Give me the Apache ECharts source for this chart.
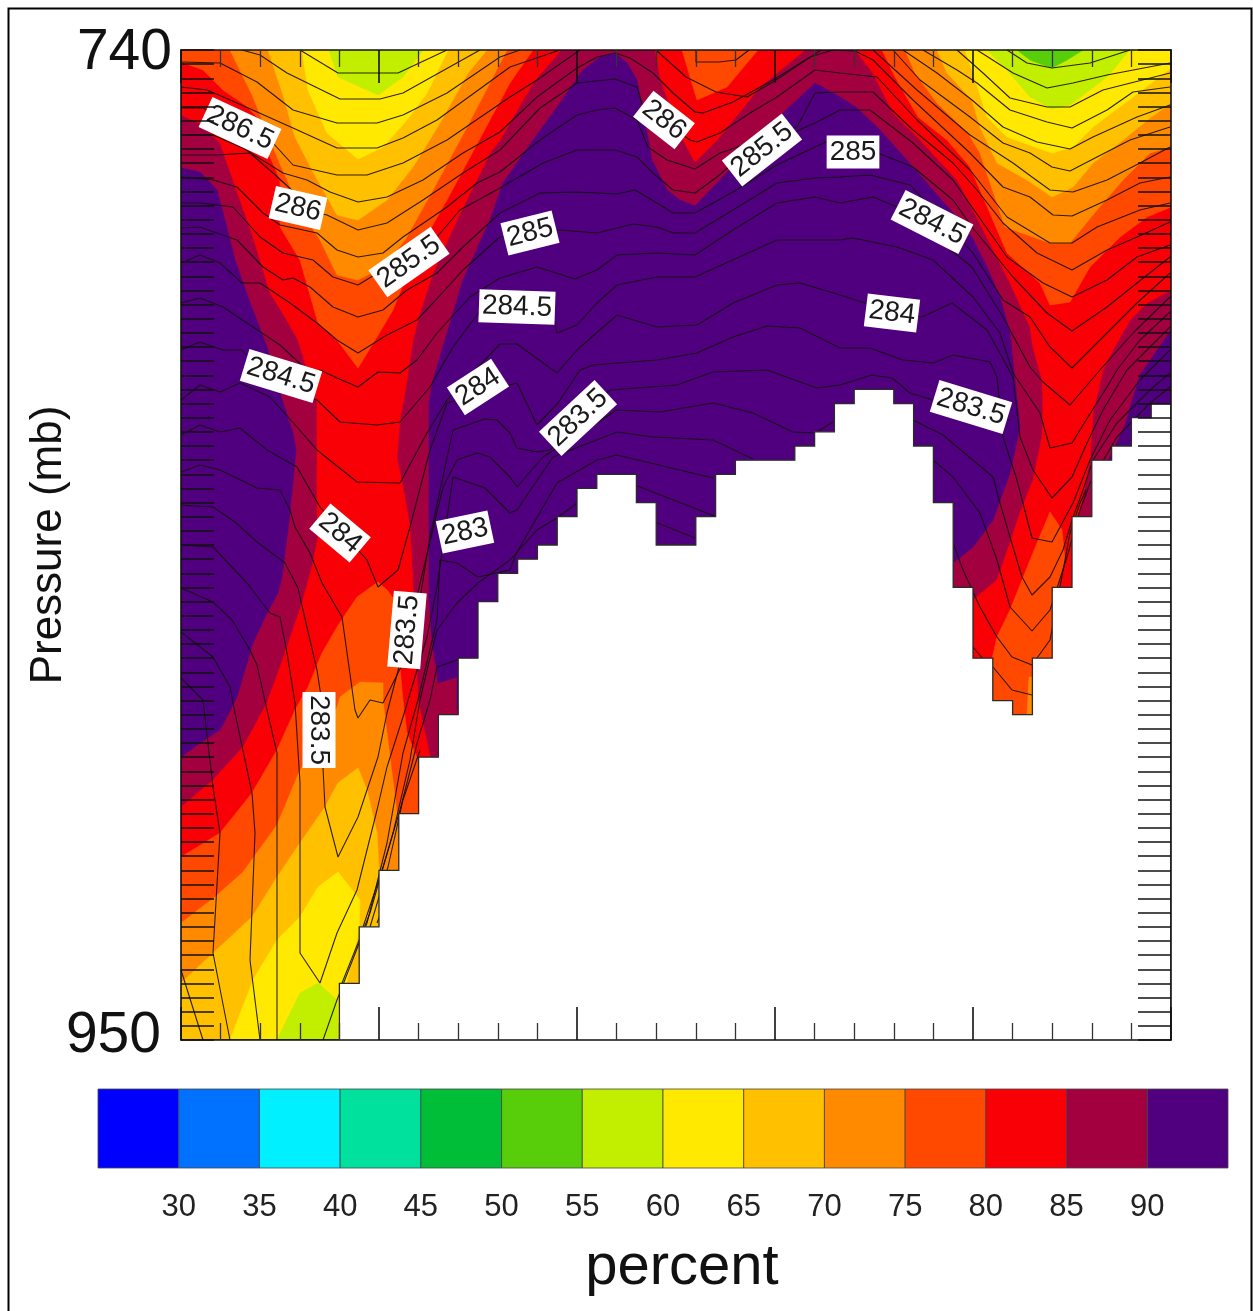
<!DOCTYPE html>
<html><head><meta charset="utf-8"><style>html,body{margin:0;background:#fff}#c{width:1253px;height:1311px;filter:blur(0.45px)}</style>
<script src="https://cdn.jsdelivr.net/npm/echarts@6/dist/echarts.min.js"></script></head><body><div id="c"></div>
<script>
// Contour vertices are [distance along section (0-990), level height (0-990, 740 mb at top, 950 mb at bottom)]
const PURPLE='#50007f',CRIMSON='#a3003f',RED='#f80006',ORED='#ff4800',ORANGE='#ff8a00',AMBER='#ffc000',YELLOW='#ffe900',YGREEN='#c2ee00',GREEN='#58ce0a';
const columnCount=50;
const surfacePressure=[950,950,950,950,950,950,950,950,938,926,914,902,890,881,869,857,851,848,845,839,833,830,830,836,845,845,839,830,827,827,827,824,821,815,812,812,815,824,836,854,869,878,881,869,854,839,827,824,818,815];
const pressureLabels=[740,950];
const rhLevels=[25,30,35,40,45,50,55,60,65,70,75,80,85,90,95];
const rhColors=['#0000ff','#0072ff','#00f0ff','#00e19d','#00be38','#58ce0a',YGREEN,YELLOW,AMBER,ORANGE,ORED,RED,CRIMSON,PURPLE];
const rhTickLabels=[30,35,40,45,50,55,60,65,70,75,80,85,90];

const baseBand=[[0,0],[990,0],[990,990],[0,990]];
const purpleLeft=[[0,118],[19,122],[36,140],[44,170],[54,210],[67,247],[86,297],[99,343],[112,383],[115,400],[109,463],[101,527],[97,543],[86,563],[72,593],[56,647],[39,680],[19,693],[0,707]];
const purpleCentre=[[276,627],[257,633],[256,623],[251,590],[248,550],[248,487],[248,353],[252,330],[267,280],[282,230],[309,170],[322,133],[352,90],[379,53],[402,20],[419,7],[434,3],[446,13],[456,30],[466,83],[471,110],[486,140],[499,150],[514,156],[536,133],[602,63],[634,33],[659,47],[676,58],[699,80],[732,117],[752,140],[772,163],[791,187],[806,217],[819,247],[829,283],[834,330],[839,377],[829,423],[812,470],[792,497],[772,513],[772,570],[276,660]];
const purpleRight=[[990,280],[959,325],[944,375],[929,407],[924,420],[990,420]];
const redLeft=[[0,65],[22,75],[39,93],[52,130],[72,187],[89,243],[104,267],[117,290],[124,313],[134,345],[136,353],[136,453],[137,487],[132,513],[121,553],[104,603],[86,653],[62,697],[32,730],[0,757],[0,990],[159,990],[249,707],[237,650],[234,570],[232,537],[229,477],[222,437],[216,408],[219,370],[226,330],[232,290],[239,263],[252,223],[276,170],[309,103],[319,90],[352,33],[380,0],[0,0]];
const redMid=[[474,0],[479,27],[489,57],[502,90],[514,112],[536,90],[579,37],[624,0]];
const redRight=[[674,0],[692,23],[712,63],[739,90],[776,130],[792,160],[829,233],[849,277],[852,297],[861,330],[862,353],[861,387],[852,430],[839,463],[829,493],[816,530],[792,550],[792,670],[894,670],[894,470],[899,460],[909,410],[912,363],[922,320],[932,300],[949,270],[966,253],[990,240],[990,0]];
const oredLeftUpper=[[0,0],[0,12],[22,20],[42,40],[64,55],[79,70],[89,107],[99,130],[99,177],[119,210],[137,273],[156,290],[177,318],[196,287],[212,260],[232,210],[266,150],[309,70],[329,33],[352,0]];
const oredMid=[[501,0],[509,27],[516,50],[546,37],[577,0]];
const oredRight=[[701,0],[714,27],[737,67],[766,90],[789,117],[802,147],[826,203],[859,233],[869,255],[889,252],[909,217],[939,187],[966,167],[990,157],[990,0]];
const oredLeftLower=[[197,532],[176,547],[156,577],[141,603],[127,637],[114,660],[96,700],[71,743],[39,783],[0,807],[0,990],[159,990],[237,860],[237,710],[226,683],[222,650],[219,617],[216,553],[206,540]];
const oredSpike=[[869,462],[856,493],[841,530],[829,560],[816,587],[811,609],[811,680],[871,680],[871,540],[877,537],[884,510],[881,480]];
const orangeUpperLeft=[[49,0],[72,47],[96,107],[117,155],[139,190],[156,225],[177,230],[202,217],[224,190],[252,140],[286,77],[326,0]];
const orangeUpperRight=[[724,0],[734,23],[756,53],[787,83],[799,103],[824,177],[869,193],[889,193],[916,160],[942,130],[969,103],[990,97],[990,0]];
const orangeLower=[[0,873],[34,847],[62,822],[96,775],[119,720],[139,690],[156,657],[159,647],[179,632],[202,633],[202,650],[206,683],[216,763],[218,790],[218,860],[159,990],[0,990]];
const orangeSliver=[[848,627],[852,627],[852,666],[846,666]];
const amberUpperLeft=[[87,0],[102,45],[114,87],[131,120],[156,165],[177,170],[206,150],[232,117],[259,73],[287,23],[306,0]];
const amberUpperRight=[[756,0],[766,23],[791,50],[799,77],[816,113],[846,130],[871,147],[892,137],[912,113],[942,90],[969,68],[990,53],[990,0]];
const amberLower=[[177,718],[157,733],[144,757],[119,793],[96,827],[71,867],[32,903],[0,933],[0,990],[159,990],[198,890],[198,821],[196,783],[186,740]];
const yellowUpperLeft=[[121,0],[127,40],[146,83],[177,109],[202,97],[226,70],[246,43],[267,0]];
const yellowUpperRight=[[784,0],[792,23],[806,67],[826,87],[871,103],[892,97],[912,77],[952,47],[990,18],[990,0]];
const yellowLower=[[157,822],[179,850],[178,880],[164,940],[159,990],[49,990],[72,930],[96,890],[119,867],[137,837]];
const ygreenUpperLeft=[[148,0],[157,27],[197,45],[222,27],[242,0]];
const ygreenUpperRight=[[806,0],[826,20],[849,47],[871,59],[889,55],[926,27],[949,0]];
const ygreenLower=[[137,933],[119,943],[96,990],[157,990],[156,950]];
const greenUpperRight=[[836,0],[849,10],[871,18],[886,10],[902,0]];

const bands=[[CRIMSON,baseBand],[PURPLE,purpleLeft],[PURPLE,purpleCentre],[PURPLE,purpleRight],[RED,redLeft],[RED,redMid],[RED,redRight],[ORED,oredLeftUpper],[ORED,oredMid],[ORED,oredRight],[ORED,oredLeftLower],[ORED,oredSpike],[ORANGE,orangeUpperLeft],[ORANGE,orangeUpperRight],[ORANGE,orangeLower],[ORANGE,orangeSliver],[AMBER,amberUpperLeft],[AMBER,amberUpperRight],[AMBER,amberLower],[YELLOW,yellowUpperLeft],[YELLOW,yellowUpperRight],[YELLOW,yellowLower],[YGREEN,ygreenUpperLeft],[YGREEN,ygreenUpperRight],[YGREEN,ygreenLower],[GREEN,greenUpperRight]];

const contours=[
[[119,0],[157,23],[217,23],[266,0]],
[[61,0],[79,5],[106,23],[159,49],[199,49],[222,43],[299,0]],
[[0,12],[39,13],[76,32],[112,60],[156,73],[196,73],[222,65],[266,43],[319,7],[339,0]],
[[0,37],[26,40],[56,53],[112,78],[156,98],[196,98],[222,88],[256,70],[329,17],[379,0]],
[[0,58],[22,58],[92,93],[112,115],[156,125],[186,125],[222,113],[266,90],[329,47],[356,30],[399,0]],
[[0,85],[32,85],[62,98],[86,113],[102,123],[126,130],[149,142],[177,152],[206,147],[242,130],[282,103],[319,82],[356,47],[396,18],[416,7],[434,3],[449,8],[472,23],[492,43],[514,62],[522,63],[552,52],[592,30],[629,7],[652,0],[674,1],[692,10],[732,50],[789,103],[822,137],[849,147],[872,165],[891,166],[926,150],[959,133],[989,127]],
[[0,105],[36,105],[69,103],[92,123],[136,163],[146,165],[177,180],[206,173],[242,150],[282,123],[319,100],[359,58],[396,33],[434,29],[456,37],[462,57],[509,90],[516,92],[539,83],[569,63],[596,47],[634,20],[659,23],[696,27],[736,70],[789,120],[826,167],[869,193],[891,193],[916,177],[959,160],[989,153]],
[[0,127],[32,130],[56,137],[82,163],[99,175],[136,183],[156,200],[177,207],[202,203],[222,187],[266,157],[296,133],[319,122],[359,90],[396,65],[416,60],[434,58],[456,70],[467,97],[486,110],[514,119],[539,103],[616,77],[634,43],[659,42],[692,42],[732,80],[772,113],[796,140],[822,173],[856,203],[891,220],[926,200],[956,187],[989,172]],
[[0,153],[19,153],[52,157],[79,187],[102,203],[132,210],[152,227],[177,235],[256,187],[279,160],[319,138],[362,113],[396,100],[434,100],[456,107],[472,123],[492,140],[514,143],[536,127],[559,107],[596,90],[634,73],[659,60],[689,60],[732,93],[772,130],[791,157],[826,207],[862,233],[891,247],[926,230],[956,207],[989,195]],
[[0,178],[19,177],[56,190],[82,217],[102,230],[112,228],[129,237],[152,257],[177,267],[202,260],[226,240],[256,223],[282,197],[319,163],[359,143],[396,142],[436,144],[454,140],[476,153],[492,163],[514,163],[552,142],[596,115],[634,97],[649,90],[702,105],[732,117],[772,150],[791,177],[832,227],[866,263],[891,281],[926,257],[956,233],[989,207]],
[[0,213],[19,205],[39,213],[61,233],[79,233],[109,253],[136,273],[156,290],[177,303],[206,285],[236,270],[252,253],[282,220],[319,187],[379,180],[416,183],[452,174],[476,177],[492,183],[514,183],[552,160],[596,133],[634,128],[659,127],[689,125],[729,135],[792,203],[822,250],[849,267],[869,297],[891,318],[926,283],[956,253],[989,223]],
[[0,253],[19,248],[42,257],[72,277],[99,295],[129,323],[139,320],[156,328],[177,337],[197,322],[219,323],[236,310],[256,283],[289,247],[319,228],[356,217],[394,229],[416,220],[436,205],[476,203],[514,205],[552,180],[596,153],[634,147],[659,153],[692,147],[716,157],[791,217],[822,267],[849,317],[862,332],[889,355],[919,320],[952,283],[989,247]],
[[0,300],[19,292],[42,300],[61,300],[99,343],[136,350],[159,372],[196,375],[219,372],[249,337],[272,297],[302,257],[374,273],[376,283],[396,275],[416,253],[436,235],[476,227],[514,227],[596,190],[659,190],[672,188],[716,197],[752,210],[792,247],[819,283],[832,323],[859,363],[869,398],[891,393],[907,367],[926,337],[936,320],[959,290],[989,262]],
[[0,350],[19,335],[39,342],[59,333],[89,347],[116,377],[136,400],[176,432],[219,433],[246,383],[266,350],[319,294],[336,294],[376,323],[396,300],[436,265],[476,277],[516,275],[552,253],[596,235],[619,233],[659,245],[684,253],[741,267],[771,253],[806,280],[832,327],[839,387],[852,420],[871,448],[891,427],[906,393],[922,360],[946,320],[989,277]],
[[0,385],[19,375],[39,382],[59,378],[86,400],[116,417],[139,457],[186,510],[197,537],[217,520],[229,477],[249,400],[266,353],[336,333],[356,375],[377,353],[399,320],[412,315],[476,310],[516,303],[552,287],[586,276],[619,278],[659,298],[689,298],[722,310],[752,313],[772,305],[809,312],[816,327],[822,387],[836,430],[851,488],[871,492],[892,453],[909,410],[929,370],[959,330],[989,300]],
[[0,422],[19,415],[39,420],[76,438],[99,440],[109,460],[114,477],[129,503],[141,533],[161,567],[174,660],[177,668],[189,650],[202,653],[222,613],[236,567],[249,487],[272,380],[304,369],[316,370],[329,383],[336,398],[356,402],[369,400],[429,340],[496,335],[532,322],[586,320],[636,338],[659,335],[691,325],[711,328],[729,343],[752,350],[829,370]],
[[0,455],[32,457],[54,472],[76,492],[104,513],[117,538],[122,560],[136,620],[141,653],[142,718],[144,757],[157,807],[177,767],[197,707],[206,663],[232,563],[262,437],[276,410],[296,403],[309,407],[329,427],[336,437],[362,407],[436,360],[479,362],[532,353],[572,363],[612,382],[634,383],[652,372]],
[[0,495],[32,497],[66,533],[89,563],[99,567],[106,603],[114,653],[119,733],[119,903],[139,933],[156,883],[176,840],[196,760],[206,717],[222,667],[246,587],[256,537],[272,427],[304,438],[329,463],[336,460],[372,407],[436,382],[472,387],[532,390],[572,409]],
[[0,538],[32,552],[51,570],[69,600],[76,615],[86,660],[96,703],[96,990]],
[[0,582],[32,607],[49,637],[54,663],[71,743],[74,783],[69,910],[79,990]],
[[0,628],[22,650],[32,737],[39,783],[32,903],[49,990]],
[[0,920],[22,990]],
[[142,990],[156,950],[186,873],[206,793],[222,703],[237,650],[256,570],[259,510],[276,513],[297,527],[329,520],[336,502],[376,433],[416,410],[436,405],[532,428]],
[[161,933],[189,863],[212,783],[229,710],[239,650],[246,620],[256,580],[276,553],[297,533],[329,510],[356,480],[376,468],[396,453]],
[[182,877],[202,817],[219,760],[237,690],[249,650],[256,617],[276,610]],
[[189,877],[207,817],[222,750],[239,700]],
[[196,873],[216,820]],
[[454,435],[536,467]],
[[474,472],[514,488]],
[[732,370],[762,385],[812,427],[819,453],[829,487],[841,527],[851,545],[869,527],[882,500],[892,467],[901,443],[912,410],[936,373],[969,340],[989,323]],
[[752,410],[772,427],[799,463],[816,510],[829,557],[851,581],[869,560],[886,507],[899,460],[909,433],[936,387],[969,353],[989,337]],
[[771,490],[782,520],[799,557],[816,587],[831,607],[851,615],[869,590],[879,537],[889,483],[899,453],[905,440]],
[[792,597],[802,609]],
[[812,617],[831,640],[851,645]],
[[826,0],[846,13],[871,18],[909,13],[949,0]],
[[796,0],[832,23],[866,38],[892,33],[926,25],[989,13]],
[[776,0],[802,23],[829,48],[866,57],[889,57],[922,40],[989,23]],
[[742,0],[776,20],[796,33],[829,60],[866,72],[891,78],[926,60],[952,42],[989,37]],
[[722,0],[756,23],[791,50],[822,77],[856,92],[889,99],[912,87],[956,67],[989,55]],
[[712,0],[739,30],[789,67],[822,93],[849,103],[871,117],[889,121],[916,107],[949,90],[989,77]],
[[692,0],[736,40],[789,85],[832,113],[851,127],[869,140],[892,142],[926,130],[959,113],[989,97]],
[[475,0],[505,27],[535,42],[566,47],[592,32],[640,0]],
[[515,0],[515,12],[538,12],[555,10],[568,0]]
];

const contourLabels=[
['286.5',59,78,-25],['286',117,158,-13],['285.5',228,212,35],['285',349,183,14],['286',483,70,-38],['285.5',581,100,38],['285',672,102,0],['284.5',751,172,-27],['284.5',336,257,-2],['284',711,263,-7],['284.5',100,326,-17],['284',297,337,33],['283.5',397,368,43],['283.5',790,357,-17],['284',159,483,-40],['283',284,482,12],['283.5',226,580,85],['283.5',138,680,-90]
];

const pressureOf=l=>740+l*210/990;
const dataPt=p=>[p[0],pressureOf(p[1])];
const colW=990/columnCount;

const terrainOutline=[];
surfacePressure.forEach((p,i)=>{terrainOutline.push([i*colW,p],[(i+1)*colW,p]);});
terrainOutline.push([990,960],[0,960]);

const series=[];
series.push({type:'custom',xAxisIndex:0,yAxisIndex:0,coordinateSystem:'cartesian2d',clip:true,z:2,silent:true,
  data:bands.map((b,i)=>[i]),encode:{x:0,y:0},
  renderItem:(params,api)=>{const b=bands[params.dataIndex];return {type:'polygon',shape:{points:b[1].map(p=>api.coord(dataPt(p)))},style:{fill:b[0],stroke:b[0],lineWidth:0.6}};}
});
contours.forEach(c=>series.push({type:'line',xAxisIndex:0,yAxisIndex:0,data:c.map(dataPt),showSymbol:false,symbol:'none',clip:true,z:3,silent:true,lineStyle:{color:'#151010',width:1.1,opacity:.9}}));
series.push({type:'custom',xAxisIndex:0,yAxisIndex:0,clip:true,z:4,silent:true,data:[[0]],encode:{x:0,y:0},
  renderItem:(params,api)=>({type:'polygon',shape:{points:terrainOutline.map(p=>api.coord(p))},style:{fill:'#fff',stroke:'#2a2a2a',lineWidth:1.3}})
});
series.push({type:'custom',xAxisIndex:0,yAxisIndex:0,clip:true,z:6,silent:true,data:contourLabels.map((l,i)=>[i]),encode:{x:0,y:0},
  renderItem:(params,api)=>{const l=contourLabels[params.dataIndex];const c=api.coord(dataPt([l[1],l[2]]));
    return {type:'text',x:c[0],y:c[1],rotation:l[3]*Math.PI/180,style:{text:l[0],fill:'#1a1a1a',font:'28px "Liberation Sans"',align:'center',verticalAlign:'middle',backgroundColor:'#fff',padding:[3,3,2,3]}};}
});
series.push({type:'custom',xAxisIndex:2,yAxisIndex:2,clip:false,z:2,silent:true,data:rhColors.map((c,i)=>[i]),encode:{x:0,y:0},
  renderItem:(params,api)=>{const i=params.dataIndex;const a=api.coord([rhLevels[i],1]),b=api.coord([rhLevels[i+1],0]);
    return {type:'rect',shape:{x:a[0],y:a[1],width:b[0]-a[0],height:b[1]-a[1]},style:{fill:rhColors[i],stroke:'#444',lineWidth:0.8}};}
});

const yTicks=[];for(let i=0;i<=70;i++)yTicks.push(740+3*i);
const tickStyle={color:'#111',width:1.6};
const xCommon={min:0,max:990,interval:198,axisLine:{show:true,lineStyle:{color:'#111',width:1.6}},axisLabel:{show:false},splitLine:{show:false},
  axisTick:{show:true,inside:true,length:33,lineStyle:tickStyle},minorTick:{show:true,splitNumber:5,length:17,lineStyle:{color:'#333',width:1.3}},z:10};
const yCommon={min:740,max:950,inverse:true,axisLine:{show:true,onZero:false,lineStyle:{color:'#111',width:1.6}},splitLine:{show:false},
  axisTick:{show:true,inside:true,length:33,customValues:yTicks,lineStyle:tickStyle},z:10};

const chart=echarts.init(document.getElementById('c'),null,{renderer:'canvas'});
chart.setOption({
  animation:false,backgroundColor:'#fff',
  graphic:[{type:'rect',z:-1,shape:{x:8.5,y:8.5,width:1243,height:1330},style:{fill:'none',stroke:'#000',lineWidth:2}}],
  grid:[{left:181,top:50,width:990,height:990,outerBoundsMode:'none'},{left:98,top:1089,width:1130,height:79,outerBoundsMode:'none'}],
  xAxis:[
    Object.assign({type:'value',gridIndex:0,position:'bottom'},xCommon),
    Object.assign({type:'value',gridIndex:0,position:'top'},xCommon),
    {type:'value',gridIndex:1,min:25,max:95,interval:5,position:'bottom',axisLine:{show:false},axisTick:{show:false},splitLine:{show:false},
     axisLabel:{margin:24,fontSize:31,color:'#222',fontFamily:'Liberation Sans',customValues:rhTickLabels},
     name:'percent',nameLocation:'middle',nameGap:71,nameMoveOverlap:false,nameTextStyle:{fontSize:58,color:'#111',fontFamily:'Liberation Sans',padding:[0,0,0,38]}}
  ],
  yAxis:[
    Object.assign({type:'value',gridIndex:0,position:'left',
      axisLabel:{show:true,margin:9,customValues:pressureLabels,fontFamily:'Liberation Sans',
        formatter:v=>v===740?'{t|740}':'{b|950}',
        rich:{t:{fontSize:57,color:'#111',fontFamily:'Liberation Sans',padding:[6,0,0,0]},b:{fontSize:57,color:'#111',fontFamily:'Liberation Sans',padding:[0,11,8,0]}}},
      name:'Pressure (mb)',nameLocation:'middle',nameRotate:90,nameGap:110,nameMoveOverlap:false,nameTextStyle:{fontSize:44,color:'#111',fontFamily:'Liberation Sans'}},yCommon),
    Object.assign({type:'value',gridIndex:0,position:'right',axisLabel:{show:false}},yCommon),
    {type:'value',gridIndex:1,min:0,max:1,show:false}
  ],
  series
});
</script></body></html>
